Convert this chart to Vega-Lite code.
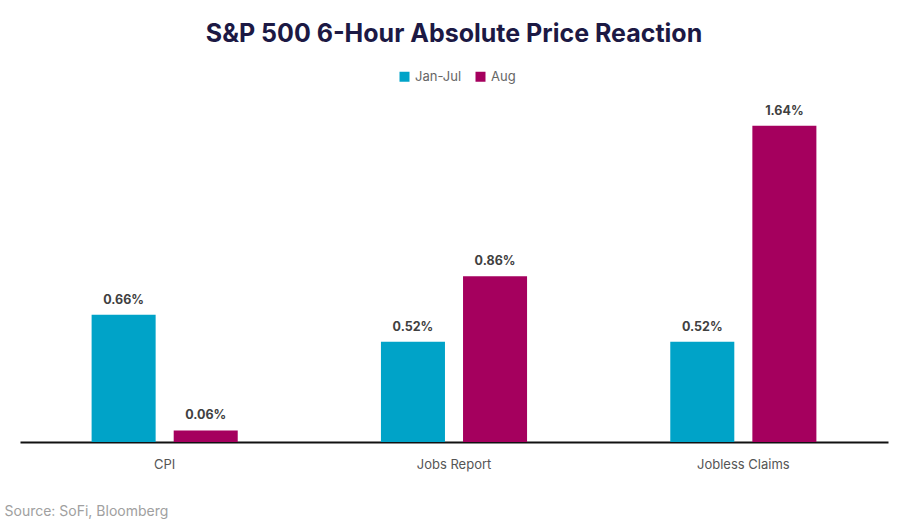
{
  "$schema": "https://vega.github.io/schema/vega-lite/v6.json",
  "autosize": {"type": "none"},
  "width": 868,
  "height": 347,
  "padding": {"left": 20, "top": 95, "right": 18, "bottom": 79},
  "background": "white",
  "title": {
    "text": "S&P 500 6-Hour Absolute Price Reaction",
    "font": "Inter",
    "fontSize": 25,
    "fontWeight": "bold",
    "color": "#1c1944",
    "anchor": "middle",
    "offset": 23
  },
  "data": {
    "values": [
      {"category": "CPI", "period": "Jan-Jul", "value": 0.66, "label": "0.66%"},
      {"category": "CPI", "period": "Aug", "value": 0.06, "label": "0.06%"},
      {"category": "Jobs Report", "period": "Jan-Jul", "value": 0.52, "label": "0.52%"},
      {"category": "Jobs Report", "period": "Aug", "value": 0.86, "label": "0.86%"},
      {"category": "Jobless Claims", "period": "Jan-Jul", "value": 0.52, "label": "0.52%"},
      {"category": "Jobless Claims", "period": "Aug", "value": 1.64, "label": "1.64%"}
    ]
  },
  "encoding": {
    "x": {
      "field": "category",
      "type": "nominal",
      "sort": ["CPI", "Jobs Report", "Jobless Claims"],
      "scale": {"paddingInner": 0.495, "paddingOuter": 0.2475},
      "axis": {
        "title": "Source: SoFi, Bloomberg",
        "titleFont": "Inter",
        "titleFontSize": 14,
        "titleFontWeight": "normal",
        "titleColor": "#a0a0a0",
        "titleAnchor": "start",
        "titleAlign": "left",
        "titleBaseline": "alphabetic",
        "titleX": -16,
        "titleY": 73,
        "labelAngle": 0,
        "labelFont": "Inter",
        "labelFontSize": 13,
        "labelColor": "#555555",
        "labelPadding": 16,
        "ticks": false,
        "domainColor": "#111111",
        "domainWidth": 2,
        "grid": false
      }
    },
    "xOffset": {
      "field": "period",
      "type": "nominal",
      "sort": ["Jan-Jul", "Aug"],
      "scale": {"paddingInner": 0.22, "paddingOuter": 0}
    },
    "y": {
      "field": "value",
      "type": "quantitative",
      "scale": {"domain": [0, 1.8], "nice": false},
      "axis": null
    }
  },
  "layer": [
    {
      "mark": {"type": "bar"},
      "encoding": {
        "color": {
          "field": "period",
          "type": "nominal",
          "sort": ["Jan-Jul", "Aug"],
          "scale": {"domain": ["Jan-Jul", "Aug"], "range": ["#00a3c8", "#a5005e"]},
          "legend": {
            "title": null,
            "orient": "none",
            "direction": "horizontal",
            "legendX": 378,
            "legendY": -25,
            "symbolType": "square",
            "symbolSize": 100,
            "symbolStrokeWidth": 0,
            "labelFont": "Inter",
            "labelFontSize": 13,
            "labelColor": "#666666",
            "columnPadding": 12,
            "labelOffset": 4
          }
        }
      }
    },
    {
      "mark": {
        "type": "text",
        "baseline": "middle",
        "dy": -15,
        "font": "Inter",
        "fontSize": 12.5,
        "fontWeight": "bold",
        "color": "#404040"
      },
      "encoding": {
        "text": {"field": "label", "type": "nominal"},
        "detail": {"field": "period"}
      }
    }
  ],
  "config": {"view": {"stroke": null}}
}
